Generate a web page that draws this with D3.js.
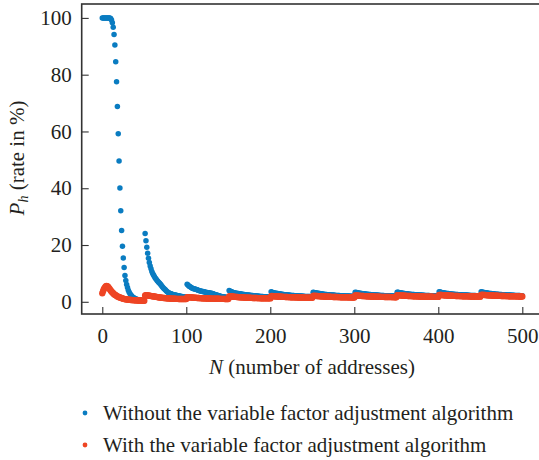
<!DOCTYPE html>
<html>
<head>
<meta charset="utf-8">
<script src="https://cdn.jsdelivr.net/npm/d3@7"></script>
<style>
  html, body { margin: 0; padding: 0; background: #fff; }
  svg { display: block; }
  text { font-family: "Liberation Serif", "DejaVu Serif", serif; fill: #231f20; }
</style>
</head>
<body>
<svg id="chart" width="539" height="460"></svg>
<script>
// Hit rate P_h (%) per number of addresses N, N = 0 .. 500, one value per N.
// Without the variable factor adjustment algorithm, in blocks of N.
const blueN0to50 = [
  100, 100, 100, 100, 100, 100, 100, 100, 100, 100,
  99.8, 99.3, 98.3, 96.7, 94.2, 90.5, 84.6, 77.5, 68.8, 59.2,
  49.6, 40.1, 32.1, 25.1, 19.6, 15.4, 12.1, 9.3, 7.5, 6.1,
  5.0, 4.1, 3.4, 2.8, 2.4, 2.0, 1.7, 1.5, 1.3, 1.1,
  1.0, 0.9, 0.8, 0.7, 0.6, 0.6, 0.5, 0.5, 0.4, 0.4, 0.4
];
const blueN51to100 = [
  24.1, 21.5, 19.2, 17.1, 15.3, 13.8, 12.6, 11.6, 10.7, 10.0,
  9.4, 8.9, 8.4, 8.0, 7.6, 7.2, 6.9, 6.6, 6.3, 5.9,
  5.5, 5.1, 4.8, 4.5, 4.2, 3.9, 3.6, 3.4, 3.2, 3.0,
  2.9, 2.8, 2.7, 2.6, 2.5, 2.4, 2.35, 2.3, 2.2, 2.15,
  2.1, 2.0, 1.95, 1.9, 1.85, 1.8, 1.75, 1.7, 1.65, 1.6
];
const blueN101to150 = [
  6.2, 5.9, 5.6, 5.4, 5.2, 5.0, 4.8, 4.7, 4.6, 4.5,
  4.4, 4.3, 4.2, 4.1, 4.0, 3.9, 3.8, 3.7, 3.65, 3.6,
  3.5, 3.45, 3.4, 3.3, 3.25, 3.2, 3.15, 3.1, 3.05, 3.0,
  2.9, 2.8, 2.7, 2.6, 2.5, 2.4, 2.3, 2.2, 2.1, 2.0,
  1.9, 1.85, 1.8, 1.75, 1.7, 1.65, 1.6, 1.55, 1.5, 1.5
];
const blueN151to200 = [
  4.0, 3.8, 3.6, 3.5, 3.4, 3.3, 3.2, 3.1, 3.05, 3.0,
  2.95, 2.9, 2.85, 2.8, 2.75, 2.7, 2.65, 2.6, 2.55, 2.5,
  2.45, 2.4, 2.4, 2.35, 2.3, 2.3, 2.25, 2.2, 2.2, 2.15,
  2.1, 2.1, 2.05, 2.0, 2.0, 1.95, 1.95, 1.9, 1.9, 1.85,
  1.85, 1.8, 1.8, 1.8, 1.75, 1.75, 1.7, 1.7, 1.7, 1.7
];
const blueN201to250 = [
  3.5, 3.4, 3.3, 3.2, 3.1, 3.05, 3.0, 2.95, 2.9, 2.85,
  2.8, 2.75, 2.7, 2.65, 2.6, 2.55, 2.5, 2.5, 2.45, 2.4,
  2.4, 2.35, 2.3, 2.3, 2.25, 2.25, 2.2, 2.2, 2.15, 2.15,
  2.1, 2.1, 2.05, 2.05, 2.0, 2.0, 2.0, 1.95, 1.95, 1.95,
  1.9, 1.9, 1.9, 1.85, 1.85, 1.85, 1.85, 1.8, 1.8, 1.8
];
const blueN251to300 = [
  3.4, 3.3, 3.2, 3.15, 3.1, 3.05, 3.0, 2.95, 2.9, 2.85,
  2.8, 2.75, 2.7, 2.65, 2.6, 2.6, 2.55, 2.5, 2.5, 2.45,
  2.45, 2.4, 2.4, 2.35, 2.35, 2.3, 2.3, 2.25, 2.25, 2.2,
  2.2, 2.2, 2.15, 2.15, 2.1, 2.1, 2.1, 2.05, 2.05, 2.05,
  2.0, 2.0, 2.0, 2.0, 1.95, 1.95, 1.95, 1.95, 1.9, 1.9
];
const blueN301to350 = [
  3.4, 3.3, 3.25, 3.2, 3.1, 3.05, 3.0, 2.95, 2.9, 2.85,
  2.8, 2.8, 2.75, 2.7, 2.65, 2.65, 2.6, 2.55, 2.55, 2.5,
  2.5, 2.45, 2.45, 2.4, 2.4, 2.35, 2.35, 2.3, 2.3, 2.3,
  2.25, 2.25, 2.2, 2.2, 2.2, 2.15, 2.15, 2.15, 2.1, 2.1,
  2.1, 2.05, 2.05, 2.05, 2.05, 2.0, 2.0, 2.0, 2.0, 1.95
];
const blueN351to400 = [
  3.4, 3.35, 3.3, 3.2, 3.15, 3.1, 3.05, 3.0, 2.95, 2.9,
  2.85, 2.8, 2.8, 2.75, 2.7, 2.7, 2.65, 2.6, 2.6, 2.55,
  2.55, 2.5, 2.5, 2.45, 2.45, 2.4, 2.4, 2.4, 2.35, 2.35,
  2.3, 2.3, 2.3, 2.25, 2.25, 2.25, 2.2, 2.2, 2.2, 2.15,
  2.15, 2.15, 2.1, 2.1, 2.1, 2.1, 2.05, 2.05, 2.05, 2.0
];
const blueN401to450 = [
  3.5, 3.45, 3.35, 3.3, 3.2, 3.15, 3.1, 3.05, 3.0, 2.95,
  2.9, 2.9, 2.85, 2.8, 2.75, 2.75, 2.7, 2.7, 2.65, 2.6,
  2.6, 2.55, 2.55, 2.5, 2.5, 2.5, 2.45, 2.45, 2.4, 2.4,
  2.4, 2.35, 2.35, 2.35, 2.3, 2.3, 2.3, 2.25, 2.25, 2.25,
  2.2, 2.2, 2.2, 2.2, 2.15, 2.15, 2.15, 2.1, 2.1, 2.1
];
const blueN451to500 = [
  3.5, 3.45, 3.4, 3.3, 3.25, 3.2, 3.15, 3.1, 3.05, 3.0,
  2.95, 2.9, 2.9, 2.85, 2.8, 2.8, 2.75, 2.7, 2.7, 2.65,
  2.65, 2.6, 2.6, 2.55, 2.55, 2.5, 2.5, 2.5, 2.45, 2.45,
  2.4, 2.4, 2.4, 2.35, 2.35, 2.35, 2.3, 2.3, 2.3, 2.3,
  2.25, 2.25, 2.25, 2.2, 2.2, 2.2, 2.2, 2.15, 2.15, 2.15
];

// With the variable factor adjustment algorithm, same blocks of N.
const redN0to50 = [
  3.0, 3.8, 4.5, 5.0, 5.4, 5.6, 5.5, 5.2, 4.8, 4.4,
  4.0, 3.6, 3.3, 3.0, 2.7, 2.5, 2.3, 2.1, 1.9, 1.8,
  1.6, 1.5, 1.4, 1.3, 1.2, 1.1, 1.0, 0.95, 0.9, 0.85,
  0.8, 0.75, 0.7, 0.68, 0.65, 0.62, 0.6, 0.58, 0.55, 0.53,
  0.5, 0.5, 0.48, 0.46, 0.45, 0.44, 0.43, 0.42, 0.41, 0.4, 0.4
];
const redN51to100 = [
  2.2, 2.3, 2.3, 2.25, 2.2, 2.15, 2.1, 2.05, 2.0, 1.95,
  1.9, 1.85, 1.8, 1.75, 1.7, 1.65, 1.6, 1.55, 1.5, 1.45,
  1.4, 1.38, 1.35, 1.32, 1.3, 1.27, 1.25, 1.22, 1.2, 1.18,
  1.15, 1.13, 1.11, 1.1, 1.08, 1.06, 1.05, 1.04, 1.03, 1.02,
  1.01, 1.0, 1.0, 0.99, 0.98, 0.97, 0.96, 0.95, 0.95, 0.94
];
const redN101to150 = [
  1.6, 1.65, 1.6, 1.58, 1.55, 1.52, 1.5, 1.48, 1.45, 1.43,
  1.4, 1.38, 1.36, 1.34, 1.32, 1.3, 1.28, 1.26, 1.25, 1.23,
  1.22, 1.2, 1.19, 1.18, 1.17, 1.16, 1.15, 1.14, 1.13, 1.12,
  1.11, 1.1, 1.09, 1.08, 1.07, 1.07, 1.06, 1.05, 1.05, 1.04,
  1.04, 1.03, 1.03, 1.02, 1.02, 1.01, 1.01, 1.0, 1.0, 1.0
];
const redN151to200 = [
  1.9, 1.95, 1.9, 1.87, 1.84, 1.81, 1.78, 1.75, 1.72, 1.7,
  1.67, 1.65, 1.62, 1.6, 1.58, 1.56, 1.54, 1.52, 1.5, 1.48,
  1.47, 1.45, 1.44, 1.42, 1.41, 1.4, 1.38, 1.37, 1.36, 1.35,
  1.34, 1.33, 1.32, 1.31, 1.3, 1.29, 1.28, 1.28, 1.27, 1.26,
  1.26, 1.25, 1.24, 1.24, 1.23, 1.23, 1.22, 1.22, 1.21, 1.2
];
const redN201to250 = [
  2.0, 2.05, 2.0, 1.97, 1.95, 1.92, 1.9, 1.88, 1.86, 1.84,
  1.82, 1.8, 1.78, 1.76, 1.75, 1.73, 1.72, 1.7, 1.69, 1.67,
  1.66, 1.65, 1.64, 1.62, 1.61, 1.6, 1.59, 1.58, 1.57, 1.56,
  1.55, 1.54, 1.53, 1.52, 1.52, 1.51, 1.5, 1.49, 1.49, 1.48,
  1.47, 1.47, 1.46, 1.45, 1.45, 1.44, 1.44, 1.43, 1.42, 1.42
];
const redN251to300 = [
  2.1, 2.15, 2.1, 2.07, 2.05, 2.02, 2.0, 1.98, 1.96, 1.94,
  1.92, 1.9, 1.88, 1.86, 1.85, 1.83, 1.82, 1.8, 1.79, 1.77,
  1.76, 1.75, 1.74, 1.72, 1.71, 1.7, 1.69, 1.68, 1.67, 1.66,
  1.65, 1.64, 1.63, 1.62, 1.62, 1.61, 1.6, 1.59, 1.59, 1.58,
  1.57, 1.57, 1.56, 1.55, 1.55, 1.54, 1.54, 1.53, 1.52, 1.52
];
const redN301to350 = [
  2.2, 2.25, 2.2, 2.17, 2.15, 2.12, 2.1, 2.08, 2.06, 2.04,
  2.02, 2.0, 1.98, 1.96, 1.95, 1.93, 1.92, 1.9, 1.89, 1.87,
  1.86, 1.85, 1.84, 1.82, 1.81, 1.8, 1.79, 1.78, 1.77, 1.76,
  1.75, 1.74, 1.73, 1.72, 1.72, 1.71, 1.7, 1.69, 1.69, 1.68,
  1.67, 1.67, 1.66, 1.65, 1.65, 1.64, 1.64, 1.63, 1.62, 1.62
];
const redN351to400 = [
  2.3, 2.35, 2.3, 2.27, 2.25, 2.22, 2.2, 2.18, 2.16, 2.14,
  2.12, 2.1, 2.08, 2.06, 2.05, 2.03, 2.02, 2.0, 1.99, 1.97,
  1.96, 1.95, 1.94, 1.92, 1.91, 1.9, 1.89, 1.88, 1.87, 1.86,
  1.85, 1.84, 1.83, 1.82, 1.82, 1.81, 1.8, 1.79, 1.79, 1.78,
  1.77, 1.77, 1.76, 1.75, 1.75, 1.74, 1.74, 1.73, 1.72, 1.72
];
const redN401to450 = [
  2.4, 2.45, 2.4, 2.37, 2.35, 2.32, 2.3, 2.28, 2.26, 2.24,
  2.22, 2.2, 2.18, 2.16, 2.15, 2.13, 2.12, 2.1, 2.09, 2.07,
  2.06, 2.05, 2.04, 2.02, 2.01, 2.0, 1.99, 1.98, 1.97, 1.96,
  1.95, 1.94, 1.93, 1.92, 1.92, 1.91, 1.9, 1.89, 1.89, 1.88,
  1.87, 1.87, 1.86, 1.85, 1.85, 1.84, 1.84, 1.83, 1.82, 1.82
];
const redN451to500 = [
  2.45, 2.5, 2.45, 2.42, 2.4, 2.37, 2.35, 2.33, 2.31, 2.29,
  2.27, 2.25, 2.23, 2.21, 2.2, 2.18, 2.17, 2.15, 2.14, 2.12,
  2.11, 2.1, 2.09, 2.07, 2.06, 2.05, 2.04, 2.03, 2.02, 2.01,
  2.0, 1.99, 1.98, 1.97, 1.97, 1.96, 1.95, 1.94, 1.94, 1.93,
  1.92, 1.92, 1.91, 1.9, 1.9, 1.89, 1.89, 1.88, 1.87, 1.87
];

const xTickValues = [0, 100, 200, 300, 400, 500];
const yTickValues = [0, 20, 40, 60, 80, 100];
const seriesNames = [
  "Without the variable factor adjustment algorithm",
  "With the variable factor adjustment algorithm"
];
const seriesColors = ["#0a7cc1", "#ee4524"];

const withoutValues = [].concat(
  blueN0to50, blueN51to100, blueN101to150, blueN151to200, blueN201to250,
  blueN251to300, blueN301to350, blueN351to400, blueN401to450, blueN451to500);
const withValues = [].concat(
  redN0to50, redN51to100, redN101to150, redN151to200, redN201to250,
  redN251to300, redN301to350, redN351to400, redN401to450, redN451to500);

const svg = d3.select("#chart");
const fontSize = 21;

const plot = { left: 81.7, top: 4, bottom: 314 };
const x = d3.scaleLinear().domain([-24.5, 525]).range([plot.left, 543.3]);
const y = d3.scaleLinear().domain([-4.3, 104.9]).range([plot.bottom, plot.top]);

// Dots: series without adjustment first, adjusted series drawn on top.
const series = [
  { values: withoutValues, color: seriesColors[0], r: 2.75 },
  { values: withValues, color: seriesColors[1], r: 3.2 }
];
series.forEach(s => {
  svg.append("g")
    .selectAll("circle")
    .data(s.values.map((v, i) => ({ n: i, v })))
    .join("circle")
    .attr("cx", d => x(d.n))
    .attr("cy", d => y(d.v))
    .attr("r", s.r)
    .attr("fill", s.color);
});

// Frame (right edge sits just outside the canvas)
svg.append("rect")
  .attr("x", plot.left).attr("y", plot.top)
  .attr("width", x.range()[1] - plot.left)
  .attr("height", plot.bottom - plot.top)
  .attr("fill", "none").attr("stroke", "#333").attr("stroke-width", 1.6);

// Axes with inward ticks
const xAxis = svg.append("g")
  .attr("transform", `translate(0,${plot.bottom})`)
  .call(d3.axisBottom(x).tickValues(xTickValues).tickSize(-7).tickPadding(14).tickFormat(d3.format("d")));
const yAxis = svg.append("g")
  .attr("transform", `translate(${plot.left},0)`)
  .call(d3.axisLeft(y).tickValues(yTickValues).tickSize(-7).tickPadding(10).tickFormat(d3.format("d")));
[xAxis, yAxis].forEach(g => {
  g.select(".domain").remove();
  g.selectAll(".tick line").attr("stroke", "#333").attr("stroke-width", 1.1);
  g.selectAll(".tick text")
    .attr("font-family", "Liberation Serif, DejaVu Serif, serif")
    .attr("font-size", fontSize).attr("fill", "#231f20");
});

// Axis titles
const xTitle = svg.append("text")
  .attr("x", 312).attr("y", 374)
  .attr("text-anchor", "middle").attr("font-size", fontSize);
xTitle.append("tspan").attr("font-style", "italic").text("N");
xTitle.append("tspan").text(" (number of addresses)");

const yTitle = svg.append("text")
  .attr("transform", "translate(24,158) rotate(-90)")
  .attr("text-anchor", "middle").attr("font-size", fontSize);
yTitle.append("tspan").attr("font-style", "italic").text("P");
yTitle.append("tspan").attr("font-style", "italic").attr("font-size", 14).attr("dy", 4).text("h");
yTitle.append("tspan").attr("dy", -4).text(" (rate in %)");

// Legend
const legend = svg.append("g");
seriesNames.forEach((name, i) => {
  const cy = 413 + i * 32;
  legend.append("circle").attr("cx", 85).attr("cy", cy).attr("r", 2.4).attr("fill", seriesColors[i]);
  legend.append("text").attr("x", 103).attr("y", cy + 6.5).attr("font-size", fontSize).text(name);
});
</script>
</body>
</html>
